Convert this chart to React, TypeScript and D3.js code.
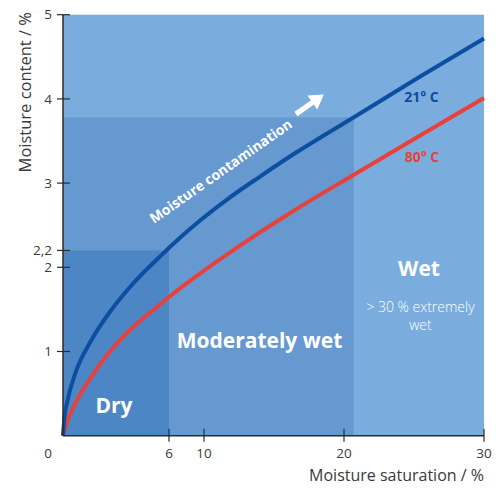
import React from "react";
import * as d3 from "d3";

const xBreaks = [0, 6, 10, 30];
const xTicks = [6, 10, 20, 30];
const yTicks = [1, 2, 2.2, 3, 4, 5];
const yTickLabels = ["1", "2", "2,2", "3", "4", "5"];

const blueX = [0, 0.085, 0.226, 0.696, 1.545, 2.774, 3.792, 5.677, 6.343, 9.543, 11.643, 14.0, 16.357, 18.786, 21.143, 25.5, 30];
const blueY = [0, 0.222, 0.39, 0.741, 1.113, 1.504, 1.766, 2.166, 2.265, 2.556, 2.805, 3.078, 3.34, 3.589, 3.827, 4.272, 4.717];
const redX = [0, 0.198, 0.606, 1.738, 3.243, 3.792, 5.677, 6.114, 9.166, 12.571, 16.357, 20.643, 25.5, 30];
const redY = [0, 0.147, 0.344, 0.741, 1.137, 1.255, 1.591, 1.657, 1.898, 2.258, 2.666, 3.094, 3.571, 4.011];

const dryLimitX = 6;
const dryLimitY = 2.2;
const modLimitX = 20.7;
const modLimitY = 3.78;

const font = "'Open Sans', 'Noto Sans', sans-serif";

export default function App() {
  const left = 63, top = 14.7, W = 421, H = 421;
  const x = d3.scaleLinear().domain(xBreaks).range([left, left + W * (106 / 421), left + W * (141 / 421), left + W]);
  const y = d3.scaleLinear().domain([0, 5]).range([top + H, top]);
  const line = d3.line<[number, number]>().x(d => x(d[0])).y(d => y(d[1])).curve(d3.curveMonotoneX);
  const blue = blueX.map((v, i) => [v, blueY[i]] as [number, number]);
  const red = redX.map((v, i) => [v, redY[i]] as [number, number]);
  const axisColor = "#2b2b2b";
  const textColor = "#3a3a3a";
  const ang = -35;
  return (
    <svg width={499} height={488} style={{ position: "absolute", left: 0, top: 0 }} fontFamily={font}>
      <rect x={0} y={0} width={499} height={488} fill="#fff" />
      <rect x={x(0)} y={y(5)} width={x(30) - x(0)} height={y(0) - y(5)} fill="#7aaddd" />
      <rect x={x(0)} y={y(modLimitY)} width={x(modLimitX) - x(0)} height={y(0) - y(modLimitY)} fill="#6699cf" />
      <rect x={x(0)} y={y(dryLimitY)} width={x(dryLimitX) - x(0)} height={y(0) - y(dryLimitY)} fill="#4d86c5" />

      <path d={line(red) || ""} fill="none" stroke="#e8403a" strokeWidth={4} />
      <path d={line(blue) || ""} fill="none" stroke="#0b4ea2" strokeWidth={4} />

      <text x={114} y={413} fill="#fff" fontWeight="bold" fontSize={21} textAnchor="middle">Dry</text>
      <text x={259.5} y={348} fill="#fff" fontWeight="bold" fontSize={21} textAnchor="middle">Moderately wet</text>
      <text x={419} y={276} fill="#fff" fontWeight="bold" fontSize={21} textAnchor="middle">Wet</text>
      <text x={420.5} y={312} fill="#fff" fontSize={14} fontWeight={300} textAnchor="middle">&gt; 30 % extremely</text>
      <text x={420.5} y={330} fill="#fff" fontSize={14} fontWeight={300} textAnchor="middle">wet</text>
      <text x={421.5} y={102} fill="#0b4ea2" fontWeight="bold" fontSize={14} textAnchor="middle">21° C</text>
      <text x={422} y={162} fill="#e8403a" fontWeight="bold" fontSize={14} textAnchor="middle">80° C</text>

      <text transform={`translate(154,224) rotate(${ang})`} fill="#fff" fontWeight="bold" fontSize={14}>Moisture contamination</text>
      <g transform={`translate(296,114) rotate(${ang})`}>
        <rect x={0} y={-2.6} width={22} height={5.2} fill="#fff" />
        <path d="M20,-8.5 L34,0 L20,8.5 Z" fill="#fff" />
      </g>

      <line x1={x(0)} x2={x(0)} y1={y(5)} y2={y(0)} stroke={axisColor} strokeWidth={1.5} />
      <line x1={x(0)} x2={x(30)} y1={y(0)} y2={y(0)} stroke={axisColor} strokeWidth={1.5} />
      {yTicks.map((t, i) => (
        <g key={"y" + i}>
          <line x1={x(0) - 6} x2={x(0) + 7} y1={y(t)} y2={y(t)} stroke={axisColor} strokeWidth={1.2} />
          <text x={x(0) - 11} y={y(t)} dy="0.35em" textAnchor="end" fontSize={13.5} fill={textColor}>{yTickLabels[i]}</text>
        </g>
      ))}
      {xTicks.map((t, i) => (
        <g key={"x" + i}>
          <line x1={x(t)} x2={x(t)} y1={y(0) - 7} y2={y(0) + 6} stroke={axisColor} strokeWidth={1.2} />
          <text x={x(t)} y={y(0) + 18} dy="0.35em" textAnchor="middle" fontSize={13.5} fill={textColor}>{String(t)}</text>
        </g>
      ))}
      <text x={48} y={y(0) + 18} dy="0.35em" textAnchor="middle" fontSize={13.5} fill={textColor}>0</text>
      <text x={x(30)} y={481} textAnchor="end" fontSize={16} fill={textColor}>Moisture saturation / %</text>
      <text transform="translate(31,12) rotate(-90)" textAnchor="end" fontSize={16.5} fill={textColor}>Moisture content / %</text>
    </svg>
  );
}
